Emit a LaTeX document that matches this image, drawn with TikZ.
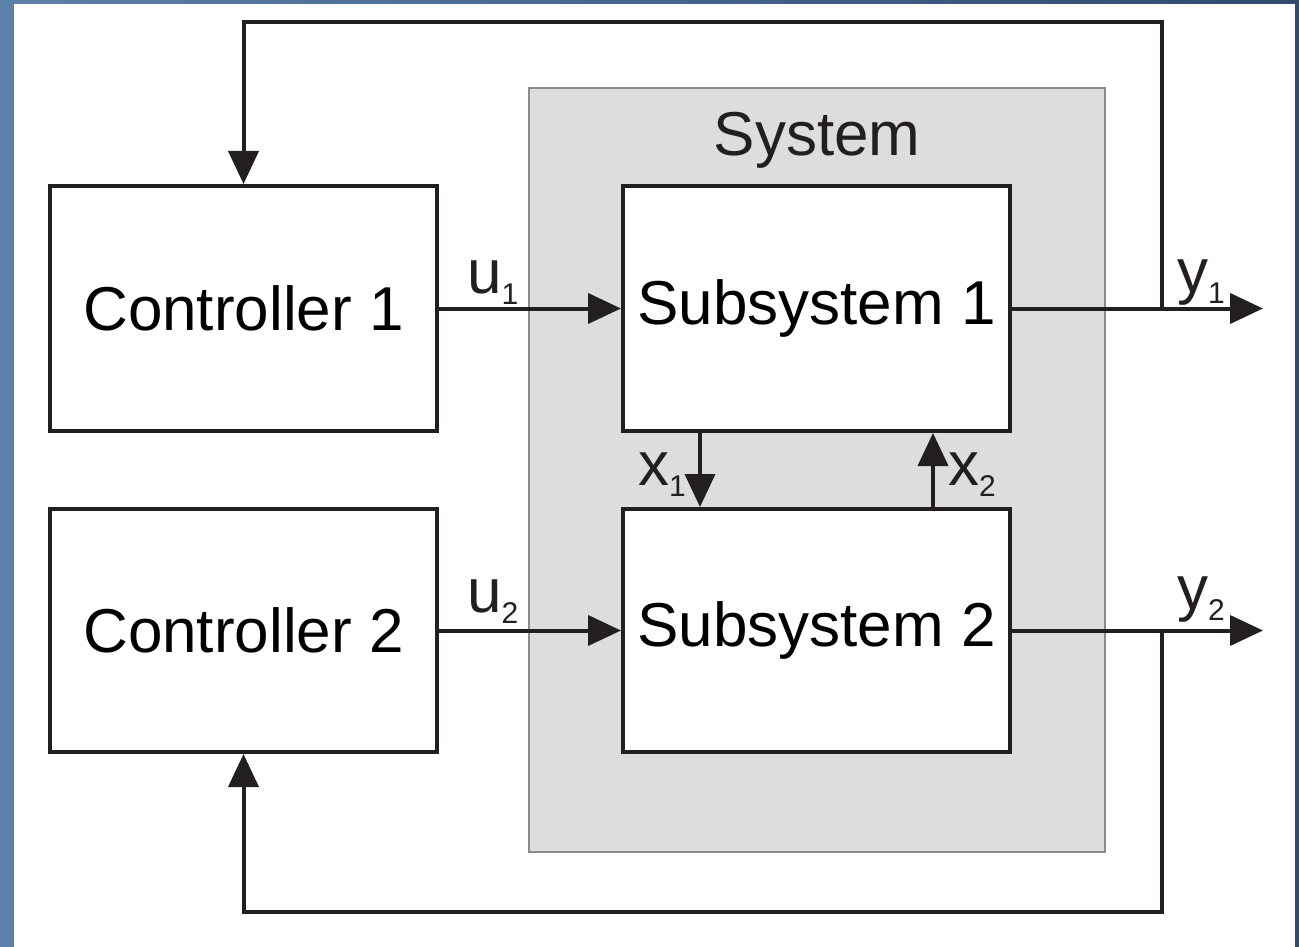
\documentclass[tikz,border=0pt]{standalone}
\usepackage{fontspec}
\setmainfont{Liberation Sans}
\usetikzlibrary{arrows.meta}
\definecolor{ink}{RGB}{35,31,32}
\definecolor{sysfill}{RGB}{221,221,221}
\definecolor{sysedge}{RGB}{138,138,138}
\definecolor{bgleft}{RGB}{92,128,168}
\definecolor{bgright}{RGB}{48,74,110}
\newcommand\bigtxt{\fontsize{62}{70}\selectfont}
\newcommand\sig[2]{#1\raisebox{-11pt}{\fontsize{30}{30}\selectfont #2}}
\tikzset{
  block/.style={draw=ink, line width=4pt, fill=white, minimum width=387pt,
    inner sep=0pt, font=\bigtxt},
  wire/.style={draw=ink, line width=4pt, line join=miter},
  arr/.style={wire, -{Triangle[length=33pt,width=30pt]}},
  lbl/.style={anchor=base west, inner sep=0pt, font=\bigtxt, text=ink}
}
\begin{document}
\begin{tikzpicture}[x=1pt,y=-1pt]
\useasboundingbox (0,0) rectangle (1299,947);
% framed background
\shade[left color=bgleft, right color=bgright] (0,0) rectangle (1299,947);
\fill[white] (14,4) rectangle (1295,947);

% system enclosure
\draw[fill=sysfill, draw=sysedge, line width=1.5pt] (529,88) rectangle (1105,852);
\node[font=\bigtxt, text=ink] (sys) at (817,140) {System};

% blocks
\node[block, minimum height=245pt] (c1) at (243.5,308.5) {Controller 1};
\node[block, minimum height=243pt] (c2) at (243.5,630.5) {Controller 2};
\node[block, minimum height=245pt] (s1) at (816.5,308.5) {Subsystem 1};
\node[block, minimum height=243pt] (s2) at (816.5,630.5) {Subsystem 2};

% control inputs
\draw[arr] (c1.east) -- (s1.west);
\draw[arr] (c2.east) -- (s2.west);

% coupling between subsystems
\draw[arr] ([xshift=-116.5pt]s1.south) -- ([xshift=-116.5pt]s2.north);
\draw[arr] ([xshift=116.5pt]s2.north) -- ([xshift=116.5pt]s1.south);

% outputs
\coordinate (y1out) at (1263,308.5);
\coordinate (y2out) at (1263,630.5);
\draw[arr] (s1.east) -- (y1out);
\draw[arr] (s2.east) -- (y2out);

% feedback paths
\coordinate (b1) at (1162,308.5);
\coordinate (t1) at (1162,22);
\coordinate (b2) at (1162,630.5);
\coordinate (t2) at (1162,912);
\draw[arr] (b1) -- (t1) -| (c1.north);
\draw[arr] (b2) -- (t2) -| (c2.south);

% signal labels
\node[lbl] (lu1) at (467,293) {\sig{u}{1}};
\node[lbl] (lu2) at (467,612) {\sig{u}{2}};
\node[lbl] (lx1) at (638,485) {\sig{x}{1}};
\node[lbl] (lx2) at (948,485) {\sig{x}{2}};
\node[lbl] (ly1) at (1177,292) {\sig{y}{1}};
\node[lbl] (ly2) at (1177,609) {\sig{y}{2}};
\end{tikzpicture}
\end{document}
